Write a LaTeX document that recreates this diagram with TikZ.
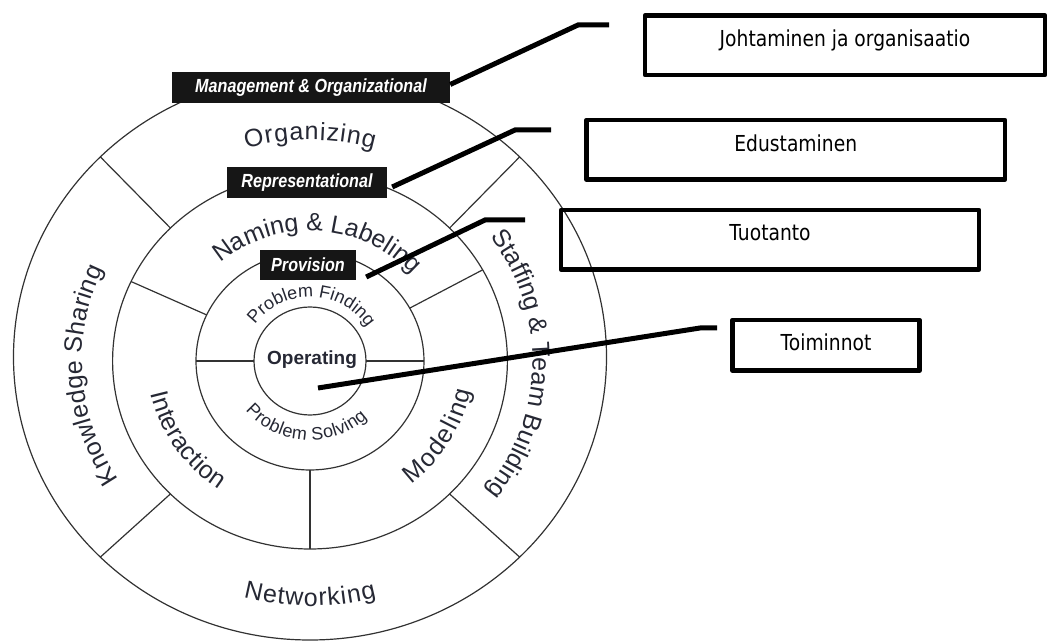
\documentclass[tikz,border=0pt]{standalone}
\usepackage{fontspec}
\setmainfont{Liberation Sans}
\newfontfamily\tagfont[FakeStretch=0.85]{Liberation Sans}
\newfontfamily\boxfont[FakeStretch=0.85]{DejaVu Sans}
\usepackage{xcolor}
\usetikzlibrary{decorations.text}
\definecolor{ringink}{RGB}{38,40,52}
\definecolor{lineink}{RGB}{50,50,50}
\definecolor{tagfill}{RGB}{22,22,22}
\tikzset{
  ringline/.style={draw=lineink, line width=1.2pt},
  ringlabel/.style={decorate, decoration={text along path, text align=fit to path, text={#1}}},
  tag/.style={fill=tagfill, text=white, inner sep=0pt, font=\tagfont\bfseries\itshape\fontsize{19}{19}\selectfont},
  finbox/.style={draw=black, line width=4.5pt, line join=round, inner sep=0pt, text height=17pt, font=\boxfont\fontsize{22}{22}\selectfont},
  pin/.style={draw=black, line width=5pt}
}
\newcommand{\bigring}{\fontsize{25}{25}\selectfont\color{ringink}}
\newcommand{\smallring}{\fontsize{18}{18}\selectfont\color{ringink}}

\begin{document}
\begin{tikzpicture}[x=1pt, y=1pt]
\useasboundingbox (-310,-283) rectangle (741,361);

% Rings (a little wider than tall, as in the scan)
\draw[ringline] (0,4) ellipse [x radius=296.5, y radius=283];
\draw[ringline] (0,0) ellipse [x radius=197.4, y radius=188];
\draw[ringline] (0,0) ellipse [x radius=114, y radius=109];
\draw[ringline] (0,0) ellipse [x radius=56, y radius=54];

% Dividers between the sectors
\foreach \a in {45,135,225,315}
  \draw[ringline] (\a:197.4 and 188) -- ([yshift=4pt]\a:296.5 and 283);
\foreach \a in {29,155,270}
  \draw[ringline] (\a:114 and 109) -- (\a:197.4 and 188);
\foreach \a in {0,180}
  \draw[ringline] (\a:56 and 54) -- (\a:114 and 109);

% Outer ring labels
\path[ringlabel={|\bigring|Organizing}] (106:232 and 221) arc[start angle=106, end angle=74, x radius=232, y radius=221];
\path[ringlabel={|\bigring|Knowledge Sharing}] (213:228 and 217) arc[start angle=213, end angle=155, x radius=228, y radius=217];
\path[ringlabel={|\bigring|Staffing {\&} Team Building}] (36:222.6 and 212) arc[start angle=36, end angle=-37, x radius=222.6, y radius=212];
\path[ringlabel={|\bigring|Networking}] (255:257 and 245) arc[start angle=255, end angle=285, x radius=257, y radius=245];

% Middle ring labels
\path[ringlabel={|\bigring|Naming {\&} Labeling}] (131:136.5 and 130) arc[start angle=131, end angle=42, x radius=136.5, y radius=130];
\path[ringlabel={|\bigring|Interaction}] (192:162.75 and 155) arc[start angle=192, end angle=236, x radius=162.75, y radius=155];
\path[ringlabel={|\bigring|Modeling}] (308:163.8 and 156) arc[start angle=308, end angle=349, x radius=163.8, y radius=156];

% Inner ring labels
\path[ringlabel={|\smallring|Problem Finding}] (145:67 and 64) arc[start angle=145, end angle=35, x radius=67, y radius=64];
\path[ringlabel={|\smallring|Problem Solving}] (219:83 and 79) arc[start angle=219, end angle=314, x radius=83, y radius=79];

\node[font=\bfseries\fontsize{19}{19}\selectfont, text=ringink] (oper) at (2,1) {Operating};

% Black level tags
\node[tag, minimum width=278pt, minimum height=31pt] (mgmt) at (1,273.5) {Management \& Organizational};
\node[tag, minimum width=160pt, minimum height=31pt] (rep) at (-3,178.5) {Representational};
\node[tag, minimum width=96pt, minimum height=30pt] (prov) at (-2,96) {Provision};

% Finnish boxes
\node[finbox, minimum width=400pt, minimum height=59.5pt, text depth=15pt] (johto) at (535,315.75) {Johtaminen ja organisaatio};
\node[finbox, minimum width=418.5pt, minimum height=59.5pt, text depth=13pt] (edu) at (485.75,211.25) {Edustaminen};
\node[finbox, minimum width=418pt, minimum height=59.5pt, text depth=15pt] (tuo) at (460,121.25) {Tuotanto};
\node[finbox, minimum width=187pt, minimum height=50.5pt, text depth=6pt] (toim) at (516,15.75) {Toiminnot};

% Pointer lines
\coordinate (mgmt-end) at (299,336);
\coordinate (rep-end) at (241,231);
\coordinate (prov-end) at (215,141);
\coordinate (oper-pin) at (8,-27);
\coordinate (oper-end) at (407,33);
\draw[pin] ([yshift=3pt]mgmt.east) -- (268,336) -- (mgmt-end);
\draw[pin] ([xshift=5pt,yshift=-4.5pt]rep.east) -- (205,231) -- (rep-end);
\draw[pin] ([xshift=10pt,yshift=-12pt]prov.east) -- (175,141) -- (prov-end);
\draw[pin] (oper-pin) -- (390,33) -- (oper-end);

\end{tikzpicture}
\end{document}
